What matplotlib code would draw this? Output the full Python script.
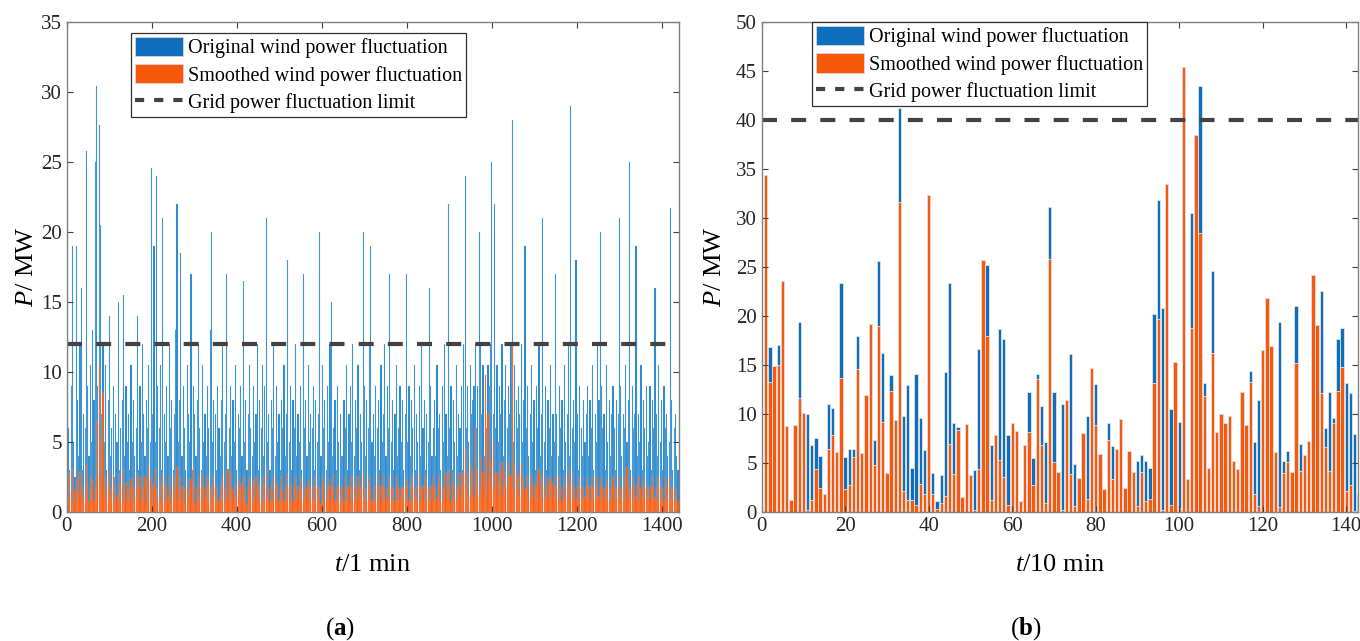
import numpy as np
import matplotlib.pyplot as plt
from matplotlib.patches import Patch
from matplotlib.lines import Line2D

plt.rcParams['font.family'] = ['Liberation Serif', 'DejaVu Serif']
plt.rcParams['mathtext.fontset'] = 'custom'
plt.rcParams['mathtext.rm'] = 'Liberation Serif'
plt.rcParams['mathtext.it'] = 'Liberation Serif:italic'
plt.rcParams['mathtext.bf'] = 'Liberation Serif:bold'

# ── Data: (a) 1-min fluctuation, 3-min bins (MW) ──────────────────────────────
orig_1min = [
    22, 6, 3, 9, 19, 5, 2.5, 19, 8, 4, 12, 16, 3, 7, 6, 25.8, 9, 4, 10.5, 5, 13, 8, 25, 30.4,
    9, 27.6, 20.5, 7, 12, 5, 10.5, 3, 8, 14, 4, 6, 9, 2.5, 7, 5, 15, 3, 6, 8, 15.5, 4, 9, 5,
    7, 3, 10.5, 5, 8, 4, 6, 14, 3, 9, 5, 12, 7, 4, 8, 6, 10.5, 5, 24.6, 7, 19, 5, 24, 9,
    6, 10.5, 3, 21, 7, 5, 9, 4, 12, 6, 8, 3, 7, 13, 22, 5, 8, 18.5, 4, 9, 6, 3, 10.5, 7,
    5, 17, 3, 9, 7, 4, 8, 12, 6, 3, 10.5, 5, 7, 4, 9, 6, 13, 20, 5, 8, 7, 3, 9, 6,
    4, 8, 12, 5, 7, 17, 3, 6, 9, 4, 8, 5, 10.5, 3, 7, 6, 9, 4, 16.5, 5, 8, 3, 7, 10.5,
    6, 4, 9, 5, 7, 12, 3, 8, 6, 10.5, 4, 9, 21, 5, 7, 3, 8, 6, 12, 4, 9, 5, 7, 3,
    8, 6, 10.5, 4, 7, 18, 5, 9, 3, 8, 6, 12, 4, 7, 5, 9, 3, 17, 6, 8, 4, 10.5, 5, 7,
    6, 9, 3, 8, 5, 7, 20, 4, 10.5, 6, 8, 3, 9, 5, 12, 15, 4, 6, 8, 3, 9, 5, 7, 4,
    4, 8, 6, 10.5, 3, 7, 9, 5, 12, 4, 8, 6, 10.5, 3, 7, 5, 20, 9, 4, 8, 6, 12, 19, 5,
    7, 4, 9, 6, 8, 3, 10.5, 5, 7, 12, 4, 9, 6, 17, 5, 8, 3, 7, 10.5, 4, 6, 9, 5, 8,
    3, 7, 17, 5, 9, 4, 8, 6, 10.5, 3, 7, 5, 9, 4, 12, 6, 8, 3, 7, 5, 16, 9, 4, 6,
    8, 4, 10.5, 6, 7, 3, 9, 5, 12, 7, 4, 22, 6, 9, 3, 8, 5, 10.5, 4, 7, 6, 9, 3, 12,
    24, 6, 9, 5, 10.5, 7, 8, 9, 12, 6, 9, 20, 12, 7, 10.5, 4, 8, 6, 10.5, 9, 12, 25, 7, 22,
    6, 10.5, 5, 9, 7, 12, 4, 8, 10.5, 6, 9, 7, 12, 28, 5, 10.5, 8, 6, 9, 7, 12, 5, 8, 19,
    6, 9, 4, 7, 10.5, 5, 8, 3, 9, 6, 12, 4, 7, 21, 5, 9, 3, 8, 6, 10.5, 4, 7, 5, 17,
    7, 4, 9, 6, 8, 3, 10.5, 5, 7, 12, 4, 29, 6, 8, 5, 18, 7, 3, 9, 6, 4, 8, 5, 7,
    9, 4, 8, 6, 10.5, 3, 7, 5, 12, 8, 20, 9, 6, 7, 3, 10.5, 5, 8, 4, 7, 9, 6, 3, 8,
    7, 21, 9, 4, 7, 6, 10.5, 5, 8, 25, 3, 9, 6, 7, 19, 4, 7, 5, 10.5, 3, 8, 6, 9, 4,
    5, 9, 3, 8, 6, 16, 7, 4, 10.5, 5, 8, 3, 9, 6, 7, 4, 5, 21.7, 8, 3, 6, 7, 4, 3,
]
smooth_1min = [
    2.1, 0.7, 2.8, 1.3, 3.1, 0.5, 1.6, 2.3, 0.9, 1.4, 2.9, 1.9, 0.5, 1.3, 1.0, 3.4, 2.0, 0.7, 2.5, 1.5, 2.3, 0.8, 1.7, 2.6,
    6.5, 10.5, 5.0, 1.9, 8.5, 1.4, 2.5, 0.7, 2.0, 3.0, 1.1, 1.6, 2.6, 0.5, 1.8, 1.0, 2.7, 1.2, 1.9, 0.6, 3.1, 1.4, 2.1, 0.8,
    1.7, 0.9, 2.4, 2.0, 0.5, 1.6, 2.8, 1.1, 1.9, 2.5, 0.7, 1.7, 1.0, 2.6, 2.2, 0.6, 3.3, 2.5, 1.6, 0.8, 2.0, 3.1, 0.5, 1.7,
    1.1, 2.1, 0.7, 2.7, 1.7, 0.6, 2.0, 1.0, 2.6, 1.6, 0.5, 1.8, 1.1, 2.5, 3.2, 1.6, 0.8, 2.6, 1.8, 0.9, 1.7, 0.5, 2.2, 1.3,
    1.6, 2.4, 0.8, 3.2, 1.9, 0.6, 1.7, 2.5, 1.0, 1.9, 2.8, 0.7, 1.7, 1.1, 2.5, 2.0, 0.5, 1.8, 1.0, 2.6, 1.9, 0.9, 1.6, 0.7,
    1.0, 2.0, 2.5, 0.6, 1.7, 1.1, 3.1, 1.8, 0.8, 2.9, 1.6, 0.7, 2.0, 1.1, 2.4, 1.7, 0.7, 2.0, 2.6, 0.9, 1.6, 0.5, 1.9, 2.5,
    1.7, 0.8, 2.2, 1.1, 2.5, 1.6, 0.6, 2.0, 1.0, 2.5, 0.7, 1.8, 3.0, 1.0, 1.7, 0.7, 1.9, 2.6, 0.9, 1.8, 1.1, 2.1, 0.8, 1.6,
    2.6, 1.5, 0.7, 1.9, 1.0, 2.7, 1.7, 0.6, 2.0, 0.9, 1.7, 2.5, 0.8, 1.9, 1.0, 1.6, 2.5, 0.7, 2.0, 1.1, 1.7, 2.4, 0.8, 1.8,
    0.9, 1.9, 0.7, 2.6, 1.8, 1.0, 1.7, 0.6, 2.5, 2.0, 0.8, 1.6, 0.7, 2.4, 1.9, 1.0, 1.8, 2.7, 0.8, 1.7, 0.9, 2.0, 0.6, 1.7,
    1.8, 0.8, 2.5, 1.7, 0.9, 1.9, 0.6, 2.6, 1.7, 0.8, 2.0, 1.0, 2.5, 1.6, 0.7, 1.8, 2.8, 1.1, 1.7, 0.7, 2.0, 2.5, 1.6, 0.8,
    1.0, 1.9, 0.7, 2.6, 1.7, 0.8, 1.9, 0.7, 2.7, 1.8, 1.0, 1.6, 0.6, 2.6, 1.9, 0.9, 1.7, 0.8, 2.5, 1.9, 0.8, 1.7, 1.0, 1.8,
    1.7, 0.7, 2.4, 1.9, 0.9, 2.0, 0.6, 2.6, 1.6, 1.0, 1.8, 0.7, 2.8, 1.7, 0.8, 1.9, 0.7, 2.5, 1.8, 0.9, 1.7, 0.8, 1.9, 2.6,
    0.8, 1.8, 1.0, 2.0, 2.6, 0.7, 1.9, 0.9, 1.7, 2.8, 1.0, 3.1, 1.8, 0.8, 2.0, 2.7, 1.0, 1.7, 0.7, 1.9, 2.8, 1.1, 1.9, 2.8,
    4.5, 1.7, 2.8, 1.0, 3.6, 1.9, 3.0, 1.1, 6.0, 2.0, 3.0, 1.2, 4.0, 1.8, 2.9, 1.0, 9.8, 2.1, 7.0, 2.6, 3.8, 1.8, 5.0, 2.7,
    1.6, 2.8, 1.1, 2.0, 3.0, 3.6, 1.2, 1.9, 2.9, 1.7, 3.5, 2.6, 2.6, 12.0, 1.6, 3.4, 2.6, 1.6, 2.7, 1.1, 3.5, 1.8, 2.6, 1.6,
    1.7, 2.6, 1.0, 1.9, 2.7, 1.1, 2.0, 0.8, 2.5, 1.7, 3.1, 1.0, 1.9, 2.6, 0.9, 1.8, 1.1, 2.5, 1.9, 2.4, 1.0, 2.0, 1.1, 2.7,
    1.8, 0.9, 2.5, 1.7, 0.8, 1.9, 2.6, 1.0, 1.8, 3.1, 1.1, 2.0, 2.5, 0.8, 1.7, 1.0, 1.9, 0.7, 2.5, 1.8, 0.9, 1.7, 1.1, 1.9,
    2.5, 1.0, 1.9, 0.8, 2.6, 1.7, 0.9, 1.8, 2.6, 1.1, 1.9, 2.5, 0.8, 1.7, 1.0, 2.4, 1.9, 0.9, 1.7, 0.7, 2.5, 1.8, 1.0, 1.7,
    2.6, 1.0, 1.7, 0.8, 1.9, 2.5, 0.9, 3.2, 1.8, 1.0, 1.7, 2.5, 0.8, 1.9, 1.1, 2.0, 2.6, 0.8, 1.7, 1.0, 2.4, 1.8, 0.9, 1.7,
    1.1, 1.9, 0.8, 2.5, 1.7, 1.0, 1.9, 0.8, 2.6, 1.8, 0.9, 1.6, 0.7, 2.5, 1.9, 1.0, 2.6, 1.7, 0.9, 1.8, 0.8, 1.7, 1.0, 0.8,
]

# ── Data: (b) 10-min fluctuation (MW) ─────────────────────────────────────────
orig_10min = [
    34.4, 16.8, 14.9, 17.0, 23.6, 8.8, 1.2, 8.9, 19.4, 10.1,
    10.0, 6.8, 7.6, 5.7, 1.9, 11.0, 10.6, 6.1, 23.4, 5.6,
    6.4, 6.4, 18.0, 6.0, 11.9, 19.2, 7.4, 25.6, 16.2, 4.0,
    14.0, 9.4, 41.2, 9.8, 13.0, 4.5, 14.1, 9.6, 6.3, 32.3,
    4.0, 1.15, 3.8, 14.3, 23.4, 9.1, 8.7, 1.5, 9.0, 3.8,
    4.3, 16.6, 25.7, 25.2, 6.8, 7.9, 18.7, 17.7, 7.9, 9.1,
    8.3, 1.15, 6.8, 12.3, 5.5, 14.1, 10.8, 7.2, 31.1, 12.3,
    4.1, 11.0, 11.4, 16.1, 4.9, 3.5, 8.1, 9.8, 14.7, 13.1,
    5.9, 2.4, 9.1, 6.7, 6.4, 9.5, 2.5, 6.2, 4.1, 5.2,
    5.8, 5.2, 4.5, 20.2, 31.8, 20.8, 33.5, 10.5, 15.3, 9.2,
    45.4, 3.4, 30.5, 38.5, 43.5, 13.2, 4.5, 24.6, 8.2, 10.0,
    9.1, 9.8, 5.2, 4.4, 12.3, 8.9, 14.4, 7.2, 11.4, 16.5,
    21.8, 16.9, 6.1, 19.4, 5.2, 6.2, 4.1, 21.0, 7.0, 5.8,
    7.3, 24.2, 19.1, 22.5, 8.6, 12.3, 9.6, 17.7, 18.8, 13.2,
    12.2, 8.0, 1.9,
]
smooth_10min = [
    34.4, 13.3, 14.9, 15.0, 23.6, 8.8, 1.2, 8.9, 11.6, 10.1,
    0.2, 1.2, 4.4, 2.5, 1.9, 6.4, 7.9, 6.1, 13.7, 2.4,
    2.8, 5.6, 14.6, 6.0, 11.9, 19.2, 4.8, 19.0, 9.2, 4.0,
    12.4, 9.4, 31.6, 2.2, 1.25, 1.25, 0.75, 2.9, 1.9, 32.3,
    1.9, 0.3, 0.9, 1.6, 7.0, 3.9, 8.4, 1.5, 9.0, 3.8,
    0.2, 4.4, 25.7, 18.0, 1.2, 7.9, 5.3, 3.6, 0.75, 9.1,
    8.3, 1.15, 6.8, 8.2, 2.8, 13.6, 6.8, 0.9, 25.8, 5.1,
    4.1, 0.24, 11.4, 3.9, 0.6, 3.5, 8.1, 1.35, 14.7, 8.9,
    5.9, 2.4, 7.4, 3.4, 6.4, 9.5, 2.5, 6.2, 4.1, 0.6,
    4.1, 1.1, 1.35, 13.2, 19.7, 0.24, 33.5, 0.75, 15.3, 0.4,
    45.4, 3.4, 18.8, 38.5, 28.5, 11.8, 4.5, 16.2, 8.2, 10.0,
    9.1, 9.8, 5.2, 4.4, 12.3, 8.9, 13.3, 1.9, 0.6, 16.5,
    21.8, 16.9, 6.1, 0.5, 4.0, 5.1, 4.1, 15.2, 4.2, 5.8,
    7.3, 24.2, 19.1, 12.1, 6.6, 4.2, 9.1, 12.4, 14.8, 2.2,
    2.8, 0.1, 1.1,
]

limit_1min = 12
limit_10min = 40

legend_labels = ["Original wind power fluctuation",
                 "Smoothed wind power fluctuation",
                 "Grid power fluctuation limit"]

c_orig = "#0C6EBD"
c_orig_light = "#2283CC"
c_smooth = "#F8580C"
c_limit = "#424242"
c_frame = "#808080"

fig = plt.figure(figsize=(13.6, 6.41), dpi=100)
ax1 = fig.add_axes([0.049, 0.201, 0.450, 0.765])
ax2 = fig.add_axes([0.560, 0.201, 0.4385, 0.765])


def style_axes(ax):
    ax.tick_params(direction="in", top=True, right=True, length=4,
                   width=0.8, color="#404040", labelsize=15, labelcolor="#262626")
    for s in ax.spines.values():
        s.set_color(c_frame)
        s.set_linewidth(1.0)


def add_legend(ax, x0, y0):
    handles = [Patch(facecolor=c_orig, edgecolor="#dddddd", linewidth=0.5),
               Patch(facecolor=c_smooth, edgecolor="#dddddd", linewidth=0.5),
               Line2D([0], [0], color=c_limit, lw=3, dashes=(2.2, 2.4))]
    leg = ax.legend(handles, legend_labels, loc="upper left",
                    bbox_to_anchor=(x0, y0), borderaxespad=0, fontsize=14.5,
                    fancybox=False, framealpha=1, edgecolor="#303030",
                    handlelength=2.4, handleheight=1.1, handletextpad=0.25,
                    labelspacing=0.3, borderpad=0.2)
    leg.get_frame().set_linewidth(0.9)


# ── Plot (a) ──────────────────────────────────────────────────────────────────
t1 = np.arange(len(orig_1min)) * 3 + 1.5
ax1.bar(t1, orig_1min, width=2.7, color=c_orig_light, edgecolor="#a8cfee", linewidth=0.15)
ax1.bar(t1, smooth_1min, width=2.7, color=c_smooth, edgecolor="#fbb48f", linewidth=0.15)
ax1.axhline(limit_1min, color=c_limit, lw=3, dashes=(3.6, 3.4))
ax1.set_xlim(0, 1440)
ax1.set_ylim(0, 35)
ax1.set_xticks(np.arange(0, 1401, 200))
ax1.set_yticks(np.arange(0, 36, 5))
ax1.set_xlabel("$t$/1 min", fontsize=19)
ax1.set_ylabel("$P$/ MW", fontsize=19)
ax1.xaxis.set_label_coords(0.5, -0.085)
ax1.yaxis.set_label_coords(-0.046, 0.5)
style_axes(ax1)
add_legend(ax1, 0.105, 0.978)

# ── Plot (b) ──────────────────────────────────────────────────────────────────
t10 = np.arange(1, len(orig_10min) + 1)
ax2.bar(t10, orig_10min, width=0.8, color=c_orig, edgecolor="#e4e4e4", linewidth=0.6)
ax2.bar(t10, smooth_10min, width=0.8, color=c_smooth, edgecolor="#e4e4e4", linewidth=0.6)
ax2.axhline(limit_10min, color=c_limit, lw=3, dashes=(3.6, 3.4))
ax2.set_xlim(0, 142.8)
ax2.set_ylim(0, 50)
ax2.set_xticks(np.arange(0, 141, 20))
ax2.set_yticks(np.arange(0, 51, 5))
ax2.set_xlabel("$t$/10 min", fontsize=19)
ax2.set_ylabel("$P$/ MW", fontsize=19)
ax2.xaxis.set_label_coords(0.5, -0.085)
ax2.yaxis.set_label_coords(-0.060, 0.5)
style_axes(ax2)
add_legend(ax2, 0.084, 1.0)

fig.text(0.25, 0.02, r"($\mathbf{a}$)", ha="center", va="center", fontsize=18)
fig.text(0.754, 0.02, r"($\mathbf{b}$)", ha="center", va="center", fontsize=18)

plt.savefig("out.png", dpi=100)
